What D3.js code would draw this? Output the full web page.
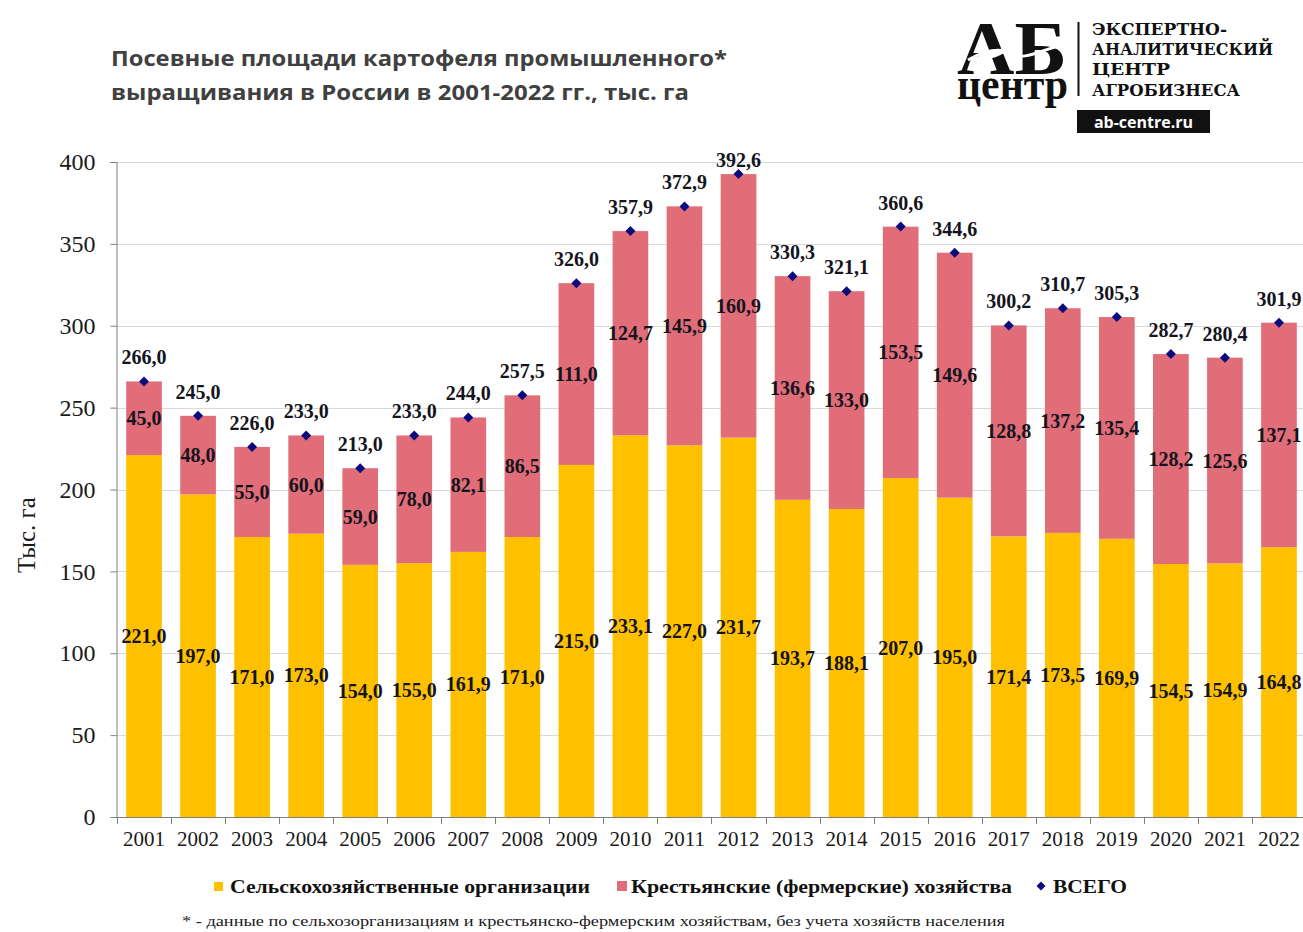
<!DOCTYPE html>
<html>
<head>
<meta charset="utf-8">
<script src="https://cdn.jsdelivr.net/npm/d3@7"></script>
<style>
  html, body { margin: 0; padding: 0; background: #fff; }
  svg { display: block; }
</style>
</head>
<body>
<script>
// data
const years = ["2001","2002","2003","2004","2005","2006","2007","2008","2009","2010","2011",
               "2012","2013","2014","2015","2016","2017","2018","2019","2020","2021","2022"];
const orgs = [221.0,197.0,171.0,173.0,154.0,155.0,161.9,171.0,215.0,233.1,227.0,
              231.7,193.7,188.1,207.0,195.0,171.4,173.5,169.9,154.5,154.9,164.8];
const farms = [45.0,48.0,55.0,60.0,59.0,78.0,82.1,86.5,111.0,124.7,145.9,
               160.9,136.6,133.0,153.5,149.6,128.8,137.2,135.4,128.2,125.6,137.1];
const totals = [266.0,245.0,226.0,233.0,213.0,233.0,244.0,257.5,326.0,357.9,372.9,
                392.6,330.3,321.1,360.6,344.6,300.2,310.7,305.3,282.7,280.4,301.9];
const yTicks = [0,50,100,150,200,250,300,350,400];
const seriesNames = ["Сельскохозяйственные организации", "Крестьянские (фермерские) хозяйства", "ВСЕГО"];

const width = 1303, height = 932;
const yellow = "#FFC000", pink = "#E06D77", navy = "#0a0a80";
const fmt = v => d3.format(".1f")(v).replace(".", ",");

const svg = d3.select("body").append("svg")
  .attr("width", width)
  .attr("height", height);

const x = d3.scaleBand().domain(years).range([117, 1306]).paddingInner(0.34).paddingOuter(0.17);
const y = d3.scaleLinear().domain([0, 400]).range([817, 162]);

const rows = years.map((yr, i) => ({ year: yr, org: orgs[i], farm: farms[i], total: totals[i] }));

// gridlines
svg.append("g")
  .selectAll("line")
  .data(yTicks.filter(t => t > 0))
  .join("line")
  .attr("x1", 117).attr("x2", width)
  .attr("y1", d => Math.round(y(d)) + 0.5).attr("y2", d => Math.round(y(d)) + 0.5)
  .attr("stroke", "#d9d9d9").attr("stroke-width", 1);

// stacked bars
const stack = d3.stack().keys(["org", "farm"])(rows);
const colors = { org: yellow, farm: pink };

svg.append("g")
  .selectAll("g")
  .data(stack)
  .join("g")
  .attr("fill", d => colors[d.key])
  .selectAll("rect")
  .data(d => d)
  .join("rect")
  .attr("x", d => x(d.data.year))
  .attr("width", x.bandwidth())
  .attr("y", d => y(d[1]))
  .attr("height", d => y(d[0]) - y(d[1]));

// y axis
const yAxis = svg.append("g").attr("transform", "translate(116.5,0)")
  .call(d3.axisLeft(y).tickValues(yTicks).tickSize(6).tickPadding(15).tickFormat(d3.format("d")));
yAxis.select(".domain").attr("stroke", "#7f7f7f");
yAxis.selectAll(".tick line").attr("stroke", "#7f7f7f");
yAxis.selectAll("text")
  .attr("font-family", "'Liberation Serif', 'Times New Roman', serif")
  .attr("font-size", 24).attr("fill", "#1a1a1a");

// x axis
const xAxis = svg.append("g").attr("transform", "translate(0,817.5)")
  .call(d3.axisBottom(x).tickSize(0).tickPadding(14));
xAxis.select(".domain").attr("stroke", "#7f7f7f").attr("d", "M116,0H" + width);
xAxis.selectAll("text")
  .attr("font-family", "'Liberation Serif', 'Times New Roman', serif")
  .attr("font-size", 21).attr("fill", "#1a1a1a");
svg.append("g")
  .selectAll("line")
  .data(years)
  .join("line")
  .attr("x1", d => Math.round(x(d) - x.step() * x.paddingInner() / 2) + 0.5)
  .attr("x2", d => Math.round(x(d) - x.step() * x.paddingInner() / 2) + 0.5)
  .attr("y1", 817).attr("y2", 824)
  .attr("stroke", "#7f7f7f");

// y axis title
svg.append("text")
  .attr("transform", "translate(35,535) rotate(-90)")
  .attr("text-anchor", "middle")
  .attr("font-family", "'Liberation Serif', 'Times New Roman', serif")
  .attr("font-size", 25).attr("fill", "#1a1a1a")
  .text("Тыс. га");

// value labels
const labelFont = "'Liberation Serif', 'Times New Roman', serif";
const labels = svg.append("g")
  .attr("font-family", labelFont).attr("font-weight", "bold")
  .attr("font-size", 20).attr("fill", "#141420").attr("text-anchor", "middle");

labels.selectAll(".lo")
  .data(rows).join("text").attr("class", "lo")
  .attr("x", d => x(d.year) + x.bandwidth() / 2)
  .attr("y", d => y(d.org / 2) + 7)
  .text(d => fmt(d.org));

labels.selectAll(".hi")
  .data(rows).join("text").attr("class", "hi")
  .attr("x", d => x(d.year) + x.bandwidth() / 2)
  .attr("y", d => y(d.org + d.farm / 2) + 7)
  .text(d => fmt(d.farm));

labels.selectAll(".tot")
  .data(rows).join("text").attr("class", "tot")
  .attr("x", d => x(d.year) + x.bandwidth() / 2)
  .attr("y", d => Math.max(y(d.total) - 17, 167))
  .text(d => fmt(d.total));

// total markers
svg.append("g")
  .selectAll("path")
  .data(rows)
  .join("path")
  .attr("transform", d => `translate(${x(d.year) + x.bandwidth() / 2},${y(d.total)})`)
  .attr("d", "M0,-5L5,0L0,5L-5,0Z")
  .attr("fill", navy);

// title
const title = svg.append("g")
  .attr("font-family", "'Open Sans', 'Noto Sans', sans-serif")
  .attr("font-weight", "bold").attr("font-size", 22).attr("fill", "#404040");
title.append("text").attr("x", 111).attr("y", 66)
  .attr("textLength", 616).attr("lengthAdjust", "spacingAndGlyphs")
  .text("Посевные площади картофеля промышленного*");
title.append("text").attr("x", 111).attr("y", 100)
  .attr("textLength", 578).attr("lengthAdjust", "spacingAndGlyphs")
  .text("выращивания  в России в 2001-2022 гг., тыс. га");

// legend
const legend = svg.append("g")
  .attr("font-family", labelFont).attr("font-weight", "bold")
  .attr("font-size", 19).attr("fill", "#111");
legend.append("rect").attr("x", 214).attr("y", 882).attr("width", 9).attr("height", 9).attr("fill", yellow);
legend.append("text").attr("x", 230).attr("y", 893)
  .attr("textLength", 360).attr("lengthAdjust", "spacingAndGlyphs").text(seriesNames[0]);
legend.append("rect").attr("x", 617).attr("y", 881).attr("width", 10).attr("height", 10).attr("fill", pink);
legend.append("text").attr("x", 631).attr("y", 893)
  .attr("textLength", 381).attr("lengthAdjust", "spacingAndGlyphs").text(seriesNames[1]);
legend.append("path").attr("transform", "translate(1041,886)").attr("d", "M0,-4.5L4.5,0L0,4.5L-4.5,0Z").attr("fill", navy);
legend.append("text").attr("x", 1053).attr("y", 893)
  .attr("textLength", 74).attr("lengthAdjust", "spacingAndGlyphs").text(seriesNames[2]);

// footnote
svg.append("text")
  .attr("x", 182).attr("y", 926)
  .attr("font-family", labelFont).attr("font-size", 15).attr("fill", "#1a1a1a")
  .attr("textLength", 823).attr("lengthAdjust", "spacingAndGlyphs")
  .text("* - данные по сельхозорганизациям  и крестьянско-фермерским хозяйствам,  без учета хозяйств  населения");

// logo
const logo = svg.append("g").attr("fill", "#111");
const mark = logo.append("text")
  .attr("font-family", labelFont).attr("font-weight", "bold");
mark.append("tspan").attr("x", 957).attr("y", 74).attr("font-size", 76)
  .attr("textLength", 110).attr("lengthAdjust", "spacingAndGlyphs").text("АБ");
mark.append("tspan").attr("x", 957).attr("y", 99).attr("font-size", 44)
  .attr("textLength", 111).attr("lengthAdjust", "spacingAndGlyphs").text("центр");
logo.append("path")
  .attr("d", "M968,60 C985,50 1000,47 1012,54 C1024,61 1040,50 1066,44")
  .attr("fill", "none").attr("stroke", "#fff").attr("stroke-width", 3);
logo.append("path")
  .attr("d", "M975,60 C982,50 996,46 1006,52 C996,58 985,61 975,60Z")
  .attr("fill", "#fff");
logo.append("line").attr("x1", 1078.5).attr("x2", 1078.5).attr("y1", 22).attr("y2", 96)
  .attr("stroke", "#111").attr("stroke-width", 2);
const logoLines = ["ЭКСПЕРТНО-", "АНАЛИТИЧЕСКИЙ", "ЦЕНТР", "АГРОБИЗНЕСА"];
const logoWidths = [135, 181, 78, 148];
const logoBase = [35, 55, 75, 96];
logo.selectAll(".ll")
  .data(logoLines).join("text").attr("class", "ll")
  .attr("x", 1092).attr("y", (d, i) => logoBase[i])
  .attr("font-family", "'DejaVu Serif', serif").attr("font-weight", "bold").attr("font-size", 16)
  .attr("textLength", (d, i) => logoWidths[i]).attr("lengthAdjust", "spacingAndGlyphs")
  .text(d => d);
logo.append("rect").attr("x", 1077).attr("y", 110).attr("width", 133).attr("height", 23).attr("fill", "#111");
logo.append("text").attr("x", 1143.5).attr("y", 128)
  .attr("text-anchor", "middle").attr("fill", "#fff")
  .attr("font-family", "'Open Sans', sans-serif").attr("font-weight", "bold").attr("font-size", 16)
  .text("ab-centre.ru");
</script>
</body>
</html>
